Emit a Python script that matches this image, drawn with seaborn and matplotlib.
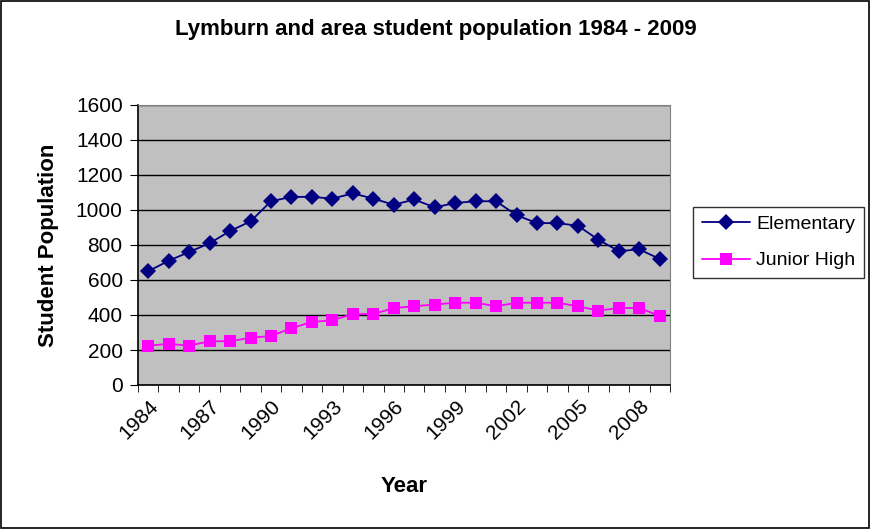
import numpy as np
import pandas as pd
import matplotlib
matplotlib.use("Agg")
import matplotlib.pyplot as plt
import seaborn as sns
from matplotlib.patches import Rectangle
from matplotlib.ticker import FixedLocator

years = list(range(1984, 2010))
elementary = [650, 710, 760, 810, 880, 935, 1050, 1075, 1075, 1065, 1095, 1065, 1030,
              1060, 1015, 1040, 1050, 1050, 970, 925, 925, 910, 830, 765, 775, 720]
junior_high = [225, 235, 225, 250, 250, 270, 280, 325, 360, 370, 405, 405, 440,
               450, 460, 470, 470, 450, 470, 470, 470, 450, 425, 440, 440, 395]

df = pd.DataFrame({"Year": years, "Elementary": elementary, "Junior High": junior_high})
long_df = df.melt(id_vars="Year", var_name="Series", value_name="Students")

sns.set_style("white")
plt.rcParams["font.family"] = ["Liberation Sans", "DejaVu Sans"]
plt.rcParams["text.color"] = "black"
plt.rcParams["axes.labelcolor"] = "black"
plt.rcParams["xtick.color"] = "black"
plt.rcParams["ytick.color"] = "black"

fig = plt.figure(figsize=(8.71, 5.29), dpi=100)
ax = fig.add_axes([138 / 871, 1 - 385 / 529, 532 / 871, 280 / 529])
ax.set_facecolor("#C0C0C0")

sns.lineplot(data=long_df, x="Year", y="Students", hue="Series", style="Series",
             palette={"Elementary": "#000080", "Junior High": "#FF00FF"},
             markers={"Elementary": "D", "Junior High": "s"},
             dashes=False, markersize=8, markeredgewidth=0, linewidth=1.3, ax=ax)

ax.set_xlim(1983.5, 2009.5)
ax.set_ylim(0, 1600)
ax.set_yticks(range(0, 1601, 200))
ax.yaxis.grid(True, color="#000000", linewidth=1)
ax.set_axisbelow(True)
ax.set_xticks(list(range(1984, 2010, 3)))
ax.set_xticklabels([str(y) for y in range(1984, 2010, 3)], rotation=45, ha="right",
                   rotation_mode="anchor", fontsize=15)
ax.xaxis.set_minor_locator(FixedLocator(np.arange(1983.5, 2010, 1)))
ax.tick_params(axis="x", which="major", length=0, pad=8)
ax.tick_params(axis="x", which="minor", length=5, direction="out", color="black", bottom=True)
ax.tick_params(axis="y", length=6, direction="out", color="black", labelsize=15, left=True, pad=5)

for side in ["left", "bottom"]:
    ax.spines[side].set_color("black")
    ax.spines[side].set_linewidth(1.2)
for side in ["top", "right"]:
    ax.spines[side].set_color("#808080")

ax.set_xlabel("Year", fontsize=16, fontweight="bold", labelpad=24)
ax.set_ylabel("Student Population", fontsize=16, fontweight="bold", labelpad=12)

leg = ax.legend(loc="upper left", bbox_to_anchor=(1.043, 0.636), fontsize=14,
                frameon=True, fancybox=False, edgecolor="black", handlelength=2.5,
                borderpad=0.45, labelspacing=0.95, handletextpad=0.3, borderaxespad=0)
leg.get_frame().set_linewidth(1)

fig.text(0.5, 1 - 30 / 529, "Lymburn and area student population 1984 - 2009",
         ha="center", va="center", fontsize=16, fontweight="bold")
fig.patches.append(Rectangle((0.001, 0.001), 0.997, 0.997, transform=fig.transFigure,
                             fill=False, edgecolor="black", linewidth=1.2))

fig.savefig("out.png", dpi=100, facecolor="white")
